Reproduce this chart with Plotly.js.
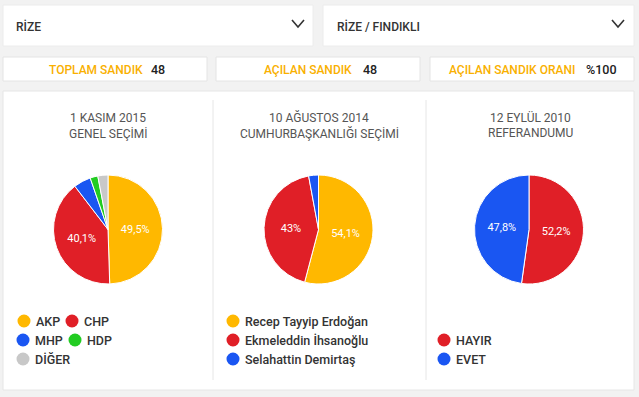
<!DOCTYPE html>
<html>
<head>
<meta charset="utf-8">
<script src="https://cdn.plot.ly/plotly-3.0.1.min.js"></script>
<style>
html,body{margin:0;padding:0;background:#f2f2f2;}
#chart{width:639px;height:397px;}
</style>
</head>
<body>
<div id="chart"></div>
<script>
// ---- data ----
const dropdownLabels = ["RİZE", "RİZE / FINDIKLI"];
const statLabels = ["TOPLAM SANDIK", "AÇILAN SANDIK", "AÇILAN SANDIK ORANI"];
const statValues = ["48", "48", "%100"];

const titles2015 = ["1 KASIM 2015", "GENEL SEÇİMİ"];
const parties2015 = ["AKP", "CHP", "MHP", "HDP", "DİĞER"];
const values2015 = [49.5, 40.1, 5.1, 2.3, 3.0];

const titles2014 = ["10 AĞUSTOS 2014", "CUMHURBAŞKANLIĞI SEÇİMİ"];
const candidates2014 = ["Recep Tayyip Erdoğan", "Ekmeleddin İhsanoğlu", "Selahattin Demirtaş"];
const values2014 = [54.1, 43, 2.9];

const titles2010 = ["12 EYLÜL 2010", "REFERANDUMU"];
const options2010 = ["HAYIR", "EVET"];
const values2010 = [52.2, 47.8];

const colors2015 = ["#FFB800", "#E01F27", "#1A56F2", "#22CC22", "#C8C8C8"];
const colors2014 = ["#FFB800", "#E01F27", "#1A56F2"];
const colors2010 = ["#E01F27", "#1A56F2"];

// ---- helpers ----
const W = 639, H = 397;
const px = x => x / W;
const py = y => 1 - y / H;
const fmt = v => String(v).replace('.', ',') + '%';
const FONT = "Roboto, 'DejaVu Sans', sans-serif";

const shapes = [];
const annotations = [];

function rect(x0, y0, x1, y1, fill, line) {
  shapes.push({type: 'rect', xref: 'paper', yref: 'paper', x0: px(x0), x1: px(x1), y0: py(y1), y1: py(y0),
    fillcolor: fill, line: {color: line || fill, width: 1}, layer: 'below'});
}
function text(t, x, y, opts) {
  annotations.push(Object.assign({xref: 'paper', yref: 'paper', x: px(x), y: py(y), text: t, showarrow: false,
    xanchor: 'left', yanchor: 'middle', font: {family: FONT, size: 12, color: '#333'}}, opts || {}));
}

// dropdowns
rect(3, 5, 313, 46, '#ffffff', '#ececec');
rect(323, 5, 634, 46, '#ffffff', '#ececec');
text(dropdownLabels[0], 14, 26, {font: {family: FONT, size: 12, color: '#333', weight: 500}});
text(dropdownLabels[1], 335, 26, {font: {family: FONT, size: 12, color: '#333', weight: 500}});
[292, 612].forEach(cx => {
  shapes.push({type: 'path', xref: 'paper', yref: 'paper',
    path: `M ${px(cx)} ${py(20)} L ${px(cx + 6)} ${py(27)} L ${px(cx + 12)} ${py(20)}`,
    line: {color: '#333', width: 1.6}});
});

// stat boxes
const statBoxes = [[3, 207, 47, 149], [216, 420, 262, 361], [430, 634, 447, 584]];
statBoxes.forEach((b, i) => {
  rect(b[0], 57, b[1], 81, '#ffffff', '#e4e4e4');
  text(statLabels[i], b[2], 70, {font: {family: FONT, size: 12, color: '#F9B000', weight: 500}});
  text(statValues[i], b[3], 70, {font: {family: FONT, size: 12.5, color: '#222', weight: 500}});
});

// main panel
rect(3, 91, 634, 390, '#ffffff', '#e6e6e6');
[213, 426].forEach(x => {
  shapes.push({type: 'line', xref: 'paper', yref: 'paper', x0: px(x), x1: px(x), y0: py(100), y1: py(380),
    line: {color: '#e6e6e6', width: 1}});
});

// titles
[[titles2015, 108], [titles2014, 319], [titles2010, 530]].forEach(([t, cx]) => {
  text(t[0], cx, 118, {xanchor: 'center', font: {family: FONT, size: 12, color: '#555'}});
  text(t[1], cx, 133, {xanchor: 'center', font: {family: FONT, size: 12, color: '#555'}});
});

// legends
function legendItem(label, color, cx, cy) {
  const r = 6.5;
  shapes.push({type: 'circle', xref: 'paper', yref: 'paper', x0: px(cx - r), x1: px(cx + r), y0: py(cy + r), y1: py(cy - r),
    fillcolor: color, line: {width: 0}});
  text(label, cx + 10, cy + 0.5, {font: {family: FONT, size: 12.5, color: '#333', weight: 500}});
}
const leg2015 = [[24, 321], [72, 321], [23, 340], [75, 340], [23, 359]];
parties2015.forEach((p, i) => legendItem(p, colors2015[i], leg2015[i][0], leg2015[i][1]));
candidates2014.forEach((c, i) => legendItem(c, colors2014[i], 233, 321 + 19 * i));
options2010.forEach((o, i) => legendItem(o, colors2010[i], 444, 340 + 19 * i));

// pies
const R = 54.5, CY = 229.5;
function pie(labels, values, colors, cx) {
  return {
    type: 'pie', labels: labels, values: values, sort: false, direction: 'clockwise', rotation: 0,
    marker: {colors: colors, line: {color: '#ffffff', width: 1}},
    text: values.map(v => v >= 10 ? fmt(v) : ''), textinfo: 'text', textposition: 'inside',
    insidetextorientation: 'horizontal',
    textfont: {family: FONT, size: 11, color: '#ffffff'},
    hoverinfo: 'label+text', showlegend: false,
    domain: {x: [px(cx - R), px(cx + R)], y: [py(CY + R), py(CY - R)]}
  };
}
const data = [
  pie(parties2015, values2015, colors2015, 108),
  pie(candidates2014, values2014, colors2014, 318.5),
  pie(options2010, values2010, colors2010, 529)
];

const layout = {
  width: W, height: H, margin: {l: 0, r: 0, t: 0, b: 0},
  paper_bgcolor: '#f2f2f2', plot_bgcolor: '#f2f2f2',
  showlegend: false, shapes: shapes, annotations: annotations,
  font: {family: FONT}
};
Plotly.newPlot('chart', data, layout, {displayModeBar: false, staticPlot: true});
</script>
</body>
</html>
